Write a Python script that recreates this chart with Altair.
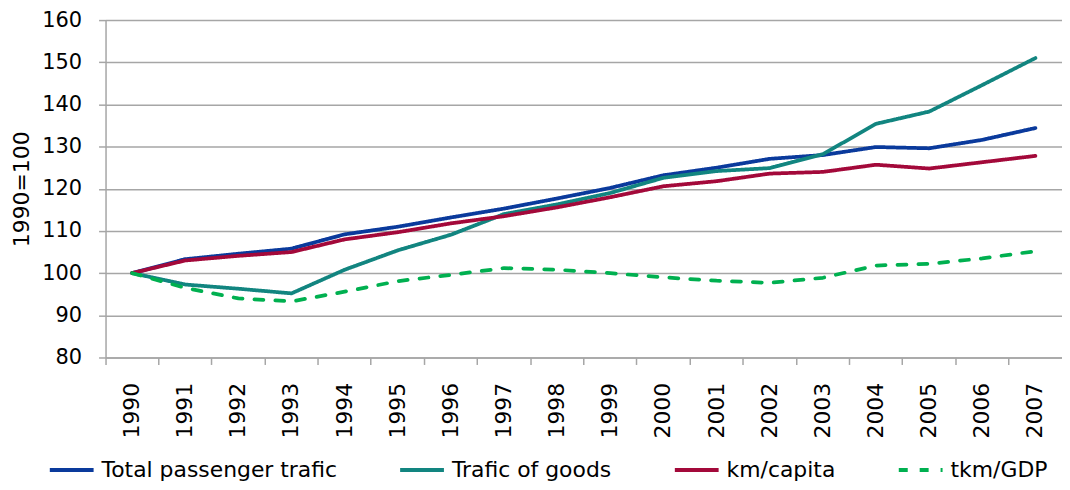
import altair as alt
import pandas as pd

years = [str(y) for y in range(1990, 2008)]
series_names = ["Total passenger trafic", "Trafic of goods", "km/capita", "tkm/GDP"]

total_passenger = [100, 103.3, 104.6, 105.8, 109.2, 111.0, 113.2, 115.3, 117.7, 120.2,
                   123.2, 125.0, 127.1, 128.0, 129.9, 129.6, 131.6, 134.4]
goods = [100, 97.3, 96.3, 95.2, 100.8, 105.4, 109.1, 114.0, 116.3, 119.0,
         122.6, 124.2, 124.9, 128.2, 135.4, 138.3, 144.6, 151.0]
km_capita = [100, 103.0, 104.1, 105.0, 108.0, 109.7, 111.8, 113.5, 115.6, 118.0,
             120.6, 121.8, 123.6, 124.0, 125.7, 124.8, 126.3, 127.8]
tkm_gdp = [100, 96.5, 94.0, 93.3, 95.6, 98.1, 99.6, 101.2, 100.8, 100.0,
           99.0, 98.2, 97.7, 98.9, 101.8, 102.2, 103.5, 105.2]

colors = ["#0a3a9c", "#128580", "#a3093a", "#00b050"]
dashes = [[1, 0], [1, 0], [1, 0], [9, 12]]

rows = []
for name, vals in zip(series_names, [total_passenger, goods, km_capita, tkm_gdp]):
    for yr, v in zip(years, vals):
        rows.append({"year": yr, "value": v, "series": name})
df = pd.DataFrame(rows)

FONT = "DejaVu Sans"
GRID = "#a6a6a6"

chart = alt.Chart(df).mark_line(strokeWidth=3.75, strokeCap="round", strokeJoin="round").encode(
    x=alt.X("year:O", sort=years,
            scale=alt.Scale(type="band", paddingInner=0, paddingOuter=0),
            axis=alt.Axis(title=None, labelAngle=270, bandPosition=0,
                          ticks=True, tickSize=7, tickColor=GRID, tickWidth=1.5,
                          domainColor=GRID, domainWidth=1.5,
                          labelPadding=18, labelFontSize=22, labelFont=FONT,
                          labelColor="black", grid=False)),
    y=alt.Y("value:Q",
            scale=alt.Scale(domain=[80, 160], nice=False, zero=False),
            axis=alt.Axis(title="1990=100", values=list(range(80, 161, 10)),
                          titleFont=FONT, titleFontSize=22, titleFontWeight="normal",
                          titleColor="black", titlePadding=8,
                          labelFont=FONT, labelFontSize=21, labelColor="black",
                          labelPadding=17, tickSize=7, tickColor=GRID, tickWidth=1.5,
                          domainColor=GRID, domainWidth=1.5,
                          grid=True, gridColor=GRID, gridWidth=1.5)),
    color=alt.Color("series:N", scale=alt.Scale(domain=series_names, range=colors),
                    legend=alt.Legend(title=None)),
    strokeDash=alt.StrokeDash("series:N", scale=alt.Scale(domain=series_names, range=dashes),
                              legend=alt.Legend(title=None)),
    order=alt.Order("series:N")
).properties(
    width=961, height=339,
    autosize=alt.AutoSizeParams(type="none"),
    padding={"left": 98, "top": 11, "right": 0, "bottom": 130}
).configure_view(
    stroke=None
).configure_legend(
    orient="none", legendX=-58, legendY=428, direction="horizontal",
    symbolType="stroke", symbolSize=1936, symbolStrokeWidth=4,
    labelFont=FONT, labelFontSize=22, labelColor="black", labelOffset=6,
    columnPadding=55, labelLimit=0, padding=0
)

chart.save("out.html", embed_options={"renderer": "svg", "actions": False})
